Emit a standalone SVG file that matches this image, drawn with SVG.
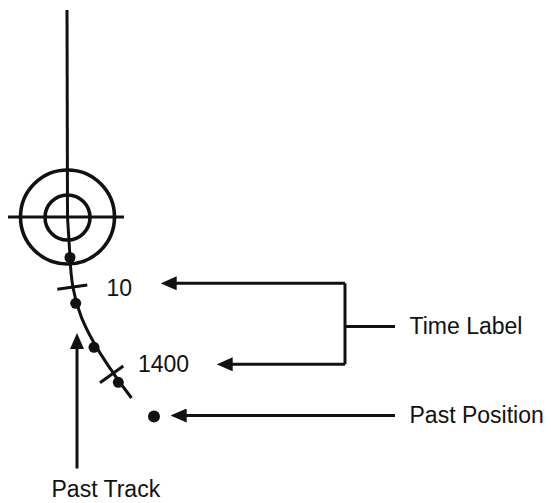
<svg xmlns="http://www.w3.org/2000/svg" width="551" height="503" viewBox="0 0 551 503">
<defs>
<style>
.ln{fill:none;stroke:#111;stroke-width:3}
.ring{fill:none;stroke:#111;stroke-width:3.6}
.dot{fill:#111}
.lbl{font-family:"Liberation Sans",Arial,sans-serif;font-size:23px;fill:#111}
</style>
<marker id="ah" markerUnits="userSpaceOnUse" markerWidth="16" markerHeight="14" refX="6" refY="7" orient="auto">
<path d="M0,0 L16,7 L0,14 z" fill="#111"/>
</marker>
</defs>
<g id="target">
<line class="ln" x1="67" y1="10" x2="67.5" y2="217"/>
<line class="ln" x1="8" y1="217" x2="124" y2="217"/>
<circle class="ring" cx="67.5" cy="217" r="47"/>
<circle class="ring" cx="67.5" cy="217.5" r="22.5"/>
</g>
<g id="track">
<path class="ln" d="M67.5,217 L70,257 C72,300 78,328 131.5,398"/>
<line class="ln" x1="57.3" y1="289.3" x2="87.3" y2="285"/>
<line class="ln" x1="100" y1="382.7" x2="123.3" y2="366"/>
<circle class="dot" cx="70" cy="257.5" r="5.5"/>
<circle class="dot" cx="75.7" cy="303.3" r="5.5"/>
<circle class="dot" cx="94" cy="347.3" r="5.5"/>
<circle class="dot" cx="118.3" cy="382.3" r="5.5"/>
</g>
<g id="past-position-dot">
<circle class="dot" cx="154" cy="416.5" r="6"/>
</g>
<g id="label-10"><text class="lbl" x="106.5" y="296">10</text></g>
<g id="label-1400"><text class="lbl" x="138" y="372">1400</text></g>
<g id="time-label"><text class="lbl" x="409.5" y="334">Time Label</text></g>
<g id="past-position"><text class="lbl" x="409.5" y="423">Past Position</text></g>
<g id="past-track"><text class="lbl" x="51.5" y="497">Past Track</text></g>
<g id="connectors">
<path class="ln" d="M395,326.5 L345,326.5"/>
<path class="ln" d="M345,283.3 L345,364.3"/>
<path class="ln" d="M345,283.3 L170.7,283.3" marker-end="url(#ah)"/>
<path class="ln" d="M345,364.3 L226.7,364.3" marker-end="url(#ah)"/>
<path class="ln" d="M395,415.5 L180.7,415.5" marker-end="url(#ah)"/>
<path class="ln" d="M77,468.5 L77,343" marker-end="url(#ah)"/>
</g>
</svg>
